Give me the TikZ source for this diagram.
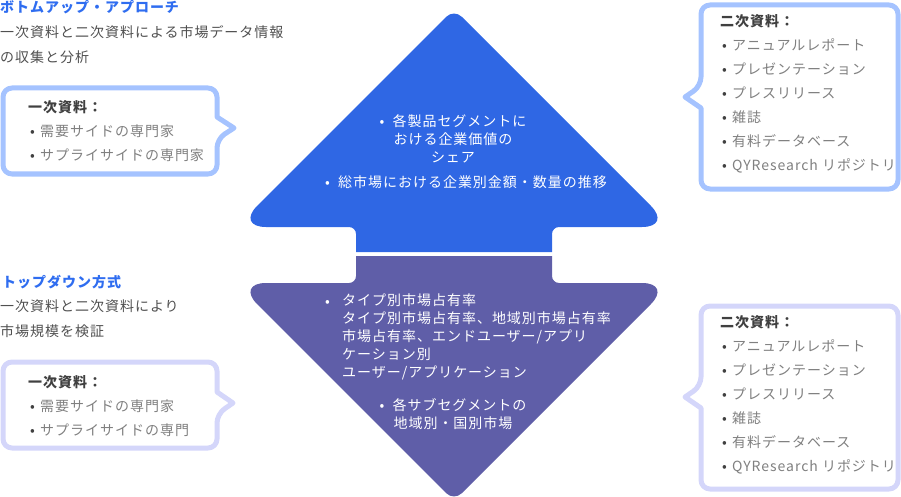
\documentclass[tikz,border=0pt]{standalone}
\usepackage{fontspec}
\usepackage{xcolor}
\setmainfont{Noto Sans CJK JP}[LetterSpace=7]
\usetikzlibrary{positioning}
\definecolor{upblue}{HTML}{2F67E4}
\definecolor{downpurple}{HTML}{5F5EA8}
\definecolor{titleblue}{HTML}{2F6DF0}
\definecolor{edgeblue}{HTML}{A5C3FF}
\definecolor{edgepurple}{HTML}{D4D6FA}
\definecolor{bodygrey}{HTML}{505050}
\definecolor{headgrey}{HTML}{404040}
\definecolor{itemgrey}{HTML}{808080}
\newcommand{\listhead}[1]{\hspace*{-2pt}{\bfseries\color{headgrey}#1}}
\newcommand{\listitem}[1]{\makebox[10pt][l]{\color{headgrey}•}{\color{itemgrey}#1}}
\newcommand{\whiteitem}{\makebox[13pt][l]{•}}

\begin{document}
\begin{tikzpicture}[x=1pt, y=-1pt]
        % Define block styles
        \tikzstyle{titletext} = [anchor=west, inner sep=0pt, text=titleblue, font=\fontsize{14}{18}\selectfont\bfseries]
        \tikzstyle{bodytext} = [anchor=west, inner sep=0pt, text=bodygrey, font=\fontsize{14}{18}\selectfont]
        \tikzstyle{listtext} = [anchor=north west, inner sep=0pt, align=left, font=\fontsize{14}{24}\selectfont]
        \tikzstyle{whitetext} = [inner sep=0pt, text=white, align=center, font=\fontsize{14}{18}\selectfont]
        \tikzstyle{bluecallout} = [draw=edgeblue, fill=white, line width=5pt, line join=round]
        \tikzstyle{purplecallout} = [draw=edgepurple, fill=white, line width=5pt, line join=round]

        \useasboundingbox (0,0) rectangle (901,497);

        % Define arrows
        \fill [upblue, rounded corners=11pt] (454,9) [rounded corners=30pt] -- (672,227) [rounded corners=7pt] -- (552,227) [sharp corners] -- (552,252) -- (356,252) [rounded corners=7pt] -- (356,227) [rounded corners=30pt] -- (236,227) [rounded corners=11pt] -- cycle;
        \fill [downpurple, rounded corners=11pt] (454,501) [rounded corners=30pt] -- (672,283) [rounded corners=7pt] -- (552,283) [sharp corners] -- (552,256) -- (356,256) [rounded corners=7pt] -- (356,283) [rounded corners=30pt] -- (236,283) [rounded corners=11pt] -- cycle;

        % Define callouts
        \path [bluecallout, rounded corners=9pt] (100,88) -- (217,88) [sharp corners] -- (217,117) -- (234,128) [rounded corners=9pt] -- (217,139) -- (217,174) -- (3,174) -- (3,88) -- cycle;
        \path [purplecallout, rounded corners=9pt] (100,362) -- (217,362) [sharp corners] -- (217,392) -- (233,403) [rounded corners=9pt] -- (217,414) -- (217,448) -- (3,448) -- (3,362) -- cycle;
        \path [bluecallout, rounded corners=9pt] (800,5) -- (898,5) -- (898,189) -- (701,189) [sharp corners] -- (701,108) -- (685,97) [rounded corners=9pt] -- (701,86) -- (701,5) -- cycle;
        \path [purplecallout, rounded corners=9pt] (800,306) -- (898,306) -- (898,489) -- (701,489) [sharp corners] -- (701,408) -- (685,397) [rounded corners=9pt] -- (701,386) -- (701,306) -- cycle;

        % Define left text
        \node [titletext] (bottomup) at (0,7) {ボトムアップ・アプローチ};
        \node [bodytext] (bottomupa) at (0,32) {一次資料と二次資料による市場データ情報};
        \node [bodytext] (bottomupb) at (0,57) {の収集と分析};
        \node [titletext] (topdown) at (2,282) {トップダウン方式};
        \node [bodytext] (topdowna) at (0,306) {一次資料と二次資料により};
        \node [bodytext] (topdownb) at (0,331) {市場規模を検証};

        % Define callout lists
        \node [listtext] (primaryup) at (30,100) {\listhead{一次資料：}\\\listitem{需要サイドの専門家}\\\listitem{サプライサイドの専門家}};
        \node [listtext] (primarydown) at (30,375) {\listhead{一次資料：}\\\listitem{需要サイドの専門家}\\\listitem{サプライサイドの専門}};
        \node [listtext] (secondaryup) at (722,14) {\listhead{二次資料：}\\\listitem{アニュアルレポート}\\\listitem{プレゼンテーション}\\\listitem{プレスリリース}\\\listitem{雑誌}\\\listitem{有料データベース}\\\listitem{QYResearch リポジトリ}};
        \node [listtext] (secondarydown) at (722,315.5) {\listhead{二次資料：}\\\listitem{アニュアルレポート}\\\listitem{プレゼンテーション}\\\listitem{プレスリリース}\\\listitem{雑誌}\\\listitem{有料データベース}\\\listitem{QYResearch リポジトリ}};

        % Define arrow text
        \node [whitetext] (segment) at (453,139) {\whiteitem 各製品セグメントに\\おける企業価値の\\シェア};
        \node [whitetext] (trend) at (466,182) {\whiteitem 総市場における企業別金額・数量の推移};
        \node [whitetext, anchor=north west, align=left] (share) at (342,293) {タイプ別市場占有率\\タイプ別市場占有率、地域別市場占有率\\市場占有率、エンドユーザー/アプリ\\ケーション別\\ユーザー/アプリケーション};
        \node [whitetext, anchor=base east] (sharebullet) at (330,306) {•};
        \node [whitetext] (subsegment) at (453,414) {\whiteitem 各サブセグメントの\\地域別・国別市場};

    \end{tikzpicture}
\end{document}
